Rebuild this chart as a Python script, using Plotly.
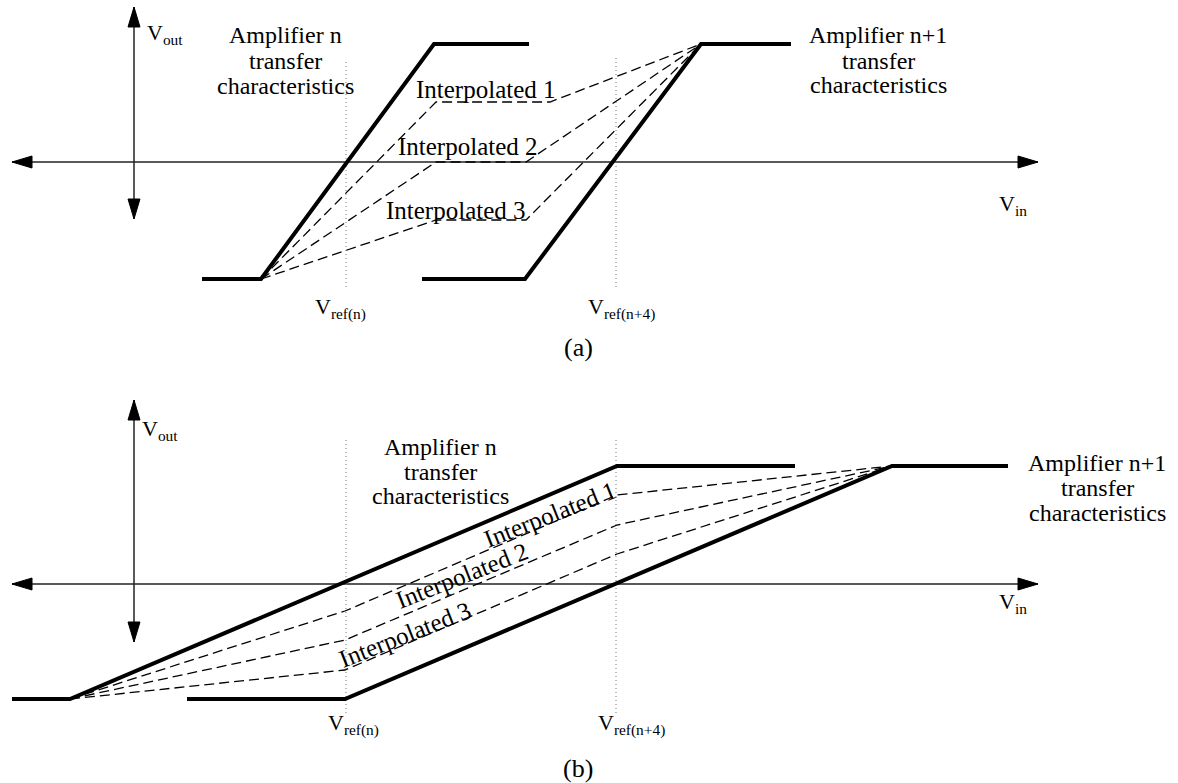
import plotly.graph_objects as go

# ---------------- panel (a): steep transfer characteristics ----------------
# Vin / Vout in arbitrary units, origin at the crossing of the two axes
A_AMP_N_X = [6.8, 12.7, 30.0, 39.5]
A_AMP_N_Y = [-11.7, -11.7, 11.8, 11.8]
A_AMP_N1_X = [28.8, 39.1, 56.7, 65.7]
A_AMP_N1_Y = [-11.7, -11.7, 11.8, 11.8]
A_INTERP_X = [
    [12.7, 30.2, 41.6, 56.7],
    [12.7, 30.2, 39.2, 56.7],
    [12.7, 30.2, 39.2, 56.7],
]
A_INTERP_Y = [
    [-11.7, 6.0, 6.0, 11.8],
    [-11.7, 0.0, 0.0, 11.8],
    [-11.7, -5.8, -5.8, 11.8],
]
A_HAXIS = [-12.2, 90.4]
A_VAXIS = [-5.7, 15.5]
A_VREF_Y = [[-12.5, 10.0], [-12.5, 10.7]]

# ---------------- panel (b): shallow transfer characteristics ----------------
B_AMP_N_X = [-12.2, -6.4, 48.3, 66.1]
B_AMP_N_Y = [-11.5, -11.5, 11.8, 11.8]
B_AMP_N1_X = [5.3, 21.1, 75.8, 87.4]
B_AMP_N1_Y = [-11.5, -11.5, 11.8, 11.8]
B_INTERP_X = [
    [-6.4, 21.1, 48.3, 75.8],
    [-6.4, 21.1, 48.3, 75.8],
    [-6.4, 21.1, 48.3, 75.8],
]
B_INTERP_Y = [
    [-11.5, -2.7, 8.9, 11.8],
    [-11.5, -5.6, 5.9, 11.8],
    [-11.5, -8.6, 3.0, 11.8],
]
B_HAXIS = [-12.2, 90.4]
B_VAXIS = [-5.8, 18.4]
B_VREF_Y = [[-12.9, 14.7], [-12.9, 14.7]]

VREF_X = [21.2, 48.2]
VREF_LABELS = ["V<sub>ref(n)</sub>", "V<sub>ref(n+4)</sub>"]
INTERP_LABELS = ["Interpolated 1", "Interpolated 2", "Interpolated 3"]
AMP_N_LINES = ["Amplifier n", "transfer", "characteristics"]
AMP_N1_LINES = ["Amplifier n+1", "transfer", "characteristics"]

# styling
FONT = "Times New Roman"
AMP_SIZE = 24
INTERP_SIZE = 25
SYMBOL_SIZE = 22
ARROW_LEN = 2.0
ARROW_HALF = 0.6
THICK = 4
AXIS_W = 1.5
DASH_W = 1.3

fig = go.Figure()


def line(xs, ys, ax, width, dash=None, color="black"):
    fig.add_trace(go.Scatter(
        x=xs, y=ys, mode="lines", xaxis=ax[0], yaxis=ax[1],
        line=dict(color=color, width=width, dash=dash),
        hoverinfo="skip", showlegend=False,
    ))


def triangle(pts, ax):
    xs = [p[0] for p in pts] + [pts[0][0]]
    ys = [p[1] for p in pts] + [pts[0][1]]
    fig.add_trace(go.Scatter(
        x=xs, y=ys, mode="lines", fill="toself", fillcolor="black",
        line=dict(color="black", width=1), xaxis=ax[0], yaxis=ax[1],
        hoverinfo="skip", showlegend=False,
    ))


def axes_with_arrows(hx, vy, ax):
    line(hx, [0, 0], ax, AXIS_W, color="#222")
    line([0, 0], vy, ax, AXIS_W, color="#222")
    triangle([(hx[0], 0), (hx[0] + ARROW_LEN, ARROW_HALF), (hx[0] + ARROW_LEN, -ARROW_HALF)], ax)
    triangle([(hx[1], 0), (hx[1] - ARROW_LEN, ARROW_HALF), (hx[1] - ARROW_LEN, -ARROW_HALF)], ax)
    triangle([(0, vy[1]), (-ARROW_HALF, vy[1] - ARROW_LEN), (ARROW_HALF, vy[1] - ARROW_LEN)], ax)
    triangle([(0, vy[0]), (-ARROW_HALF, vy[0] + ARROW_LEN), (ARROW_HALF, vy[0] + ARROW_LEN)], ax)


def text(ax, x, y, s, size=AMP_SIZE, xanchor="center", angle=0):
    fig.add_annotation(
        x=x, y=y, xref=ax[0], yref=ax[1], text=s, showarrow=False,
        xanchor=xanchor, yanchor="middle", textangle=angle,
        font=dict(family=FONT, size=size, color="black"),
    )


AX_A = ("x", "y")
AX_B = ("x2", "y2")

# ---- panel (a)
axes_with_arrows(A_HAXIS, A_VAXIS, AX_A)
for vx, vy in zip(VREF_X, A_VREF_Y):
    line([vx, vx], vy, AX_A, 1, dash="1px,3px", color="#777")
for xs, ys in zip(A_INTERP_X, A_INTERP_Y):
    line(xs, ys, AX_A, DASH_W, dash="10px,5px")
line(A_AMP_N_X, A_AMP_N_Y, AX_A, THICK)
line(A_AMP_N1_X, A_AMP_N1_Y, AX_A, THICK)

# ---- panel (b)
axes_with_arrows(B_HAXIS, B_VAXIS, AX_B)
for vx, vy in zip(VREF_X, B_VREF_Y):
    line([vx, vx], vy, AX_B, 1, dash="1px,3px", color="#777")
for xs, ys in zip(B_INTERP_X, B_INTERP_Y):
    line(xs, ys, AX_B, DASH_W, dash="10px,5px")
line(B_AMP_N_X, B_AMP_N_Y, AX_B, THICK)
line(B_AMP_N1_X, B_AMP_N1_Y, AX_B, THICK)

# ---- labels, panel (a)
text(AX_A, 1.1, 12.8, "V<sub>out</sub>", SYMBOL_SIZE, "left")
text(AX_A, 86.3, -4.3, "V<sub>in</sub>", SYMBOL_SIZE, "left")
for s, y in zip(AMP_N_LINES, [12.7, 10.1, 7.6]):
    text(AX_A, 15.1, y, s)
for s, y in zip(AMP_N1_LINES, [12.7, 10.1, 7.7]):
    text(AX_A, 74.4, y, s)
for s, (x, y) in zip(INTERP_LABELS, [(35.2, 7.3), (33.4, 1.6), (32.2, -4.8)]):
    text(AX_A, x, y, s, INTERP_SIZE)
for s, x in zip(VREF_LABELS, [20.6, 48.7]):
    text(AX_A, x, -14.6, s, SYMBOL_SIZE)
text(AX_A, 44.4, -18.5, "(a)", 26)

# ---- labels, panel (b)
text(AX_B, 0.6, 15.4, "V<sub>out</sub>", SYMBOL_SIZE, "left")
text(AX_B, 86.3, -1.9, "V<sub>in</sub>", SYMBOL_SIZE, "left")
for s, y in zip(AMP_N_LINES, [13.7, 11.2, 8.8]):
    text(AX_B, 30.6, y, s)
for s, y in zip(AMP_N1_LINES, [12.1, 9.6, 7.1]):
    text(AX_B, 96.3, y, s)
for s, (x, y) in zip(INTERP_LABELS, [(41.6, 7.0), (32.8, 0.9), (27.1, -5.0)]):
    text(AX_B, x, y, s, INTERP_SIZE, "center", -21.5)
for s, x in zip(VREF_LABELS, [21.9, 49.7]):
    text(AX_B, x, -14.0, s, SYMBOL_SIZE)
text(AX_B, 44.4, -18.4, "(b)", 26)

SPLIT = 413 / 783
hidden = dict(visible=False, showgrid=False, zeroline=False, fixedrange=True)
fig.update_layout(
    width=1178, height=783,
    margin=dict(l=0, r=0, t=0, b=0),
    paper_bgcolor="white", plot_bgcolor="white",
    showlegend=False,
    font=dict(family=FONT),
    xaxis=dict(range=[-13.4, 104.4], domain=[0, 1], anchor="y", **hidden),
    yaxis=dict(range=[-20.8, 16.2], domain=[SPLIT, 1], anchor="x", **hidden),
    xaxis2=dict(range=[-13.4, 104.4], domain=[0, 1], anchor="y2", **hidden),
    yaxis2=dict(range=[-19.9, 21.4], domain=[0, SPLIT], anchor="x2", **hidden),
)

fig.write_html("out.html")
